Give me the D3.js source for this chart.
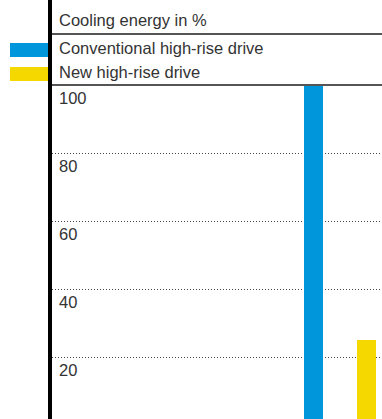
<!DOCTYPE html>
<html>
<head>
<meta charset="utf-8">
<script src="https://cdn.jsdelivr.net/npm/d3@7"></script>
<style>
  html, body { margin: 0; padding: 0; background: #fff; }
  svg { display: block; }
  text { font-family: "Liberation Sans", Arial, sans-serif; fill: #333; }
</style>
</head>
<body>
<script>
// Cooling energy comparison of two high-rise drive types
const categories = ["Conventional high-rise drive", "New high-rise drive"];
const values = [100, 25];
const colors = ["#0096db", "#f5d800"];
const tickValues = [20, 40, 60, 80, 100];
const title = "Cooling energy in %";

const W = 382, H = 419;
const FS = 16.5;
const svg = d3.select("body").append("svg").attr("width", W).attr("height", H);

const axisX = 52;          // right edge of the thick vertical rule
const plotRight = W;

const y = d3.scaleLinear().domain([0, 100]).range([425, 85]);
const x = d3.scaleBand().domain(categories).range([304, 376])
  .paddingInner(34 / 53).paddingOuter(0);
const color = d3.scaleOrdinal().domain(categories).range(colors);

// dotted gridlines (the 100 line is the solid header rule)
svg.append("g").selectAll("line")
  .data(tickValues.filter(v => v < 100))
  .join("line")
  .attr("x1", axisX).attr("x2", plotRight)
  .attr("y1", d => Math.round(y(d)) + 0.5).attr("y2", d => Math.round(y(d)) + 0.5)
  .attr("stroke", "#444").attr("stroke-width", 1)
  .attr("stroke-dasharray", "1 2");

// tick labels sit just below their gridline
svg.append("g").selectAll("text")
  .data(tickValues)
  .join("text")
  .attr("x", 59)
  .attr("y", d => y(d) + 19)
  .attr("font-size", FS)
  .text(d => d);

// bars
svg.append("g").selectAll("rect")
  .data(categories.map((c, i) => ({ c, v: values[i] })))
  .join("rect")
  .attr("x", d => x(d.c))
  .attr("width", x.bandwidth())
  .attr("y", d => y(d.v))
  .attr("height", d => y(0) - y(d.v))
  .attr("fill", d => color(d.c));

// header: title, legend rows and rules
svg.append("text").attr("x", 59).attr("y", 26).attr("font-size", FS).text(title);

svg.append("line").attr("x1", axisX).attr("x2", plotRight)
  .attr("y1", 34).attr("y2", 34).attr("stroke", "#555").attr("stroke-width", 2);
svg.append("line").attr("x1", axisX).attr("x2", plotRight)
  .attr("y1", y(100)).attr("y2", y(100)).attr("stroke", "#555").attr("stroke-width", 2);

const legend = svg.append("g").selectAll("g")
  .data(categories)
  .join("g")
  .attr("transform", (d, i) => `translate(0, ${43 + i * 24})`);
legend.append("rect").attr("x", 10).attr("y", 0).attr("width", 40).attr("height", 14)
  .attr("fill", d => color(d));
legend.append("text").attr("x", 59).attr("y", 11).attr("font-size", FS).text(d => d);

// thick vertical rule
svg.append("rect").attr("x", 48).attr("y", 0).attr("width", 4).attr("height", H).attr("fill", "#000");
</script>
</body>
</html>
